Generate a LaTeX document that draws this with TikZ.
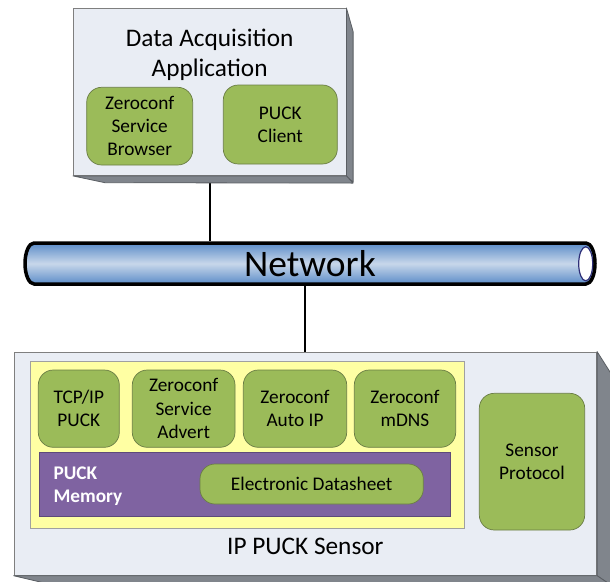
\documentclass[tikz,border=0pt]{standalone}
\usepackage{fontspec}
\setmainfont{Carlito}
\usetikzlibrary{backgrounds}
\definecolor{facefill}{HTML}{E9EDF4}
\definecolor{faceline}{HTML}{7F7F7F}
\definecolor{sidefill}{HTML}{80858C}
\definecolor{sideline}{HTML}{5A5E63}
\definecolor{modulegreen}{HTML}{9BBB59}
\definecolor{moduleline}{HTML}{6A7D45}
\definecolor{stackyellow}{HTML}{FFFFA3}
\definecolor{stackline}{HTML}{A0A0A0}
\definecolor{memorypurple}{HTML}{7F63A1}
\definecolor{memoryline}{HTML}{5E4A7A}
\definecolor{tubedark}{HTML}{5B8CC8}
\definecolor{tubelight}{HTML}{C8D7EA}
\definecolor{capline}{HTML}{2E2F78}

\begin{document}
\begin{tikzpicture}[x=1pt,y=-1pt]
    \tikzset{%
        face/.style={draw=faceline, fill=facefill, line width=0.8pt, inner sep=0pt},%
        side/.style={draw=sideline, fill=sidefill, line width=0.8pt, line join=round},%
        module/.style={draw=moduleline, fill=modulegreen, line width=0.7pt,%
            rounded corners=15pt, inner sep=0pt, align=center,%
            font=\fontsize{19.3}{23.3}\selectfont},%
        link/.style={draw=black, line width=2pt}%
    }%
    \useasboundingbox (0,0) rectangle (610,581);%

    %
    % Data acquisition host
    %
    \node[face, minimum width=272.7pt, minimum height=167.2pt] (app) at (209.65,91.9) {};%
    \draw[side] (app.north east) -- ++(6.7,23.7) -- ++(0,150.7) -- (app.south east) -- cycle;%
    \draw[side] (app.south west) -- (app.south east) -- ++(6.7,7.2) -- (105,182.7) -- cycle;%
    \node[align=center, font=\fontsize{25.3}{30}\selectfont] (app title) at (209.65,54.5)%
        {Data Acquisition\\Application};%
    \node[module, minimum width=106pt, minimum height=77.7pt] (browser) at (139.7,126.15)%
        {Zeroconf\\Service\\Browser};%
    \node[module, minimum width=114pt, minimum height=79pt] (client) at (280.3,124.5)%
        {PUCK\\Client};%

    %
    % Network
    %
    \shade[top color=tubedark, bottom color=tubedark, middle color=tubelight]%
        (34,243) -- (586,243) arc[start angle=-90, end angle=90, x radius=9, y radius=20.5]%
        -- (34,284) arc[start angle=90, end angle=270, x radius=9, y radius=20.5] -- cycle;%
    \draw[line width=3.5pt, line join=round]%
        (34,243) -- (586,243) arc[start angle=-90, end angle=90, x radius=9, y radius=20.5]%
        -- (34,284) arc[start angle=90, end angle=270, x radius=9, y radius=20.5] -- cycle;%
    \draw[draw=capline, fill=white, line width=1.2pt] (585.7,263.8) ellipse[x radius=7, y radius=17];%
    \node[minimum width=574pt, minimum height=45pt, inner sep=0pt,%
        font=\fontsize{37.5}{40}\selectfont] (network) at (310,263.5) {Network};%

    %
    % Sensor
    %
    \node[face, minimum width=582.7pt, minimum height=223.3pt] (sensor) at (305.35,463.65) {};%
    \draw[side] (sensor.north east) -- ++(13.3,21) -- ++(0,212) -- (sensor.south east) -- cycle;%
    \draw[side] (sensor.south west) -- (sensor.south east) -- ++(13.3,9) -- (50,584.3) -- cycle;%
    \node[anchor=base, font=\fontsize{25.3}{30}\selectfont] (sensor title) at (305.35,554)%
        {IP PUCK Sensor};%

    % Stack
    \node[draw=stackline, fill=stackyellow, line width=0.7pt, inner sep=0pt,%
        minimum width=434.3pt, minimum height=166.6pt] (stack) at (247.15,445) {};%
    \foreach \name/\cx/\w/\txt in {%
        tcpip/78.8/81/{TCP/IP\\PUCK},%
        advert/183.65/102.7/{Zeroconf\\Service\\Advert},%
        autoip/295/103.4/{Zeroconf\\Auto IP},%
        mdns/405/101.4/{Zeroconf\\mDNS}} {%
        \node[module, minimum width=\w pt, minimum height=77.3pt] (\name) at (\cx,408.65) {\txt};%
    }%

    % Memory
    \node[draw=memoryline, fill=memorypurple, line width=0.7pt, inner sep=0pt,%
        minimum width=411.2pt, minimum height=63.7pt] (memory) at (244.9,484.15) {};%
    \node[anchor=north west, inner sep=0pt, align=left, text=white,%
        font=\fontsize{19.3}{23.3}\selectfont\bfseries] (memory title) at (53.3,466.7)%
        {PUCK\\Memory};%
    \node[module, minimum width=223.3pt, minimum height=40pt] (datasheet) at (311.65,484)%
        {Electronic Datasheet};%

    \node[module, minimum width=105.4pt, minimum height=136.7pt] (protocol) at (532,461.65)%
        {Sensor\\Protocol};%

    %
    % Links
    %
    \begin{scope}[on background layer]%
        \draw[link] (app.south) -- (app.south |- network.north);%
        \draw[link] (sensor.north) -- (sensor.north |- network.south);%
    \end{scope}%
\end{tikzpicture}
\end{document}
